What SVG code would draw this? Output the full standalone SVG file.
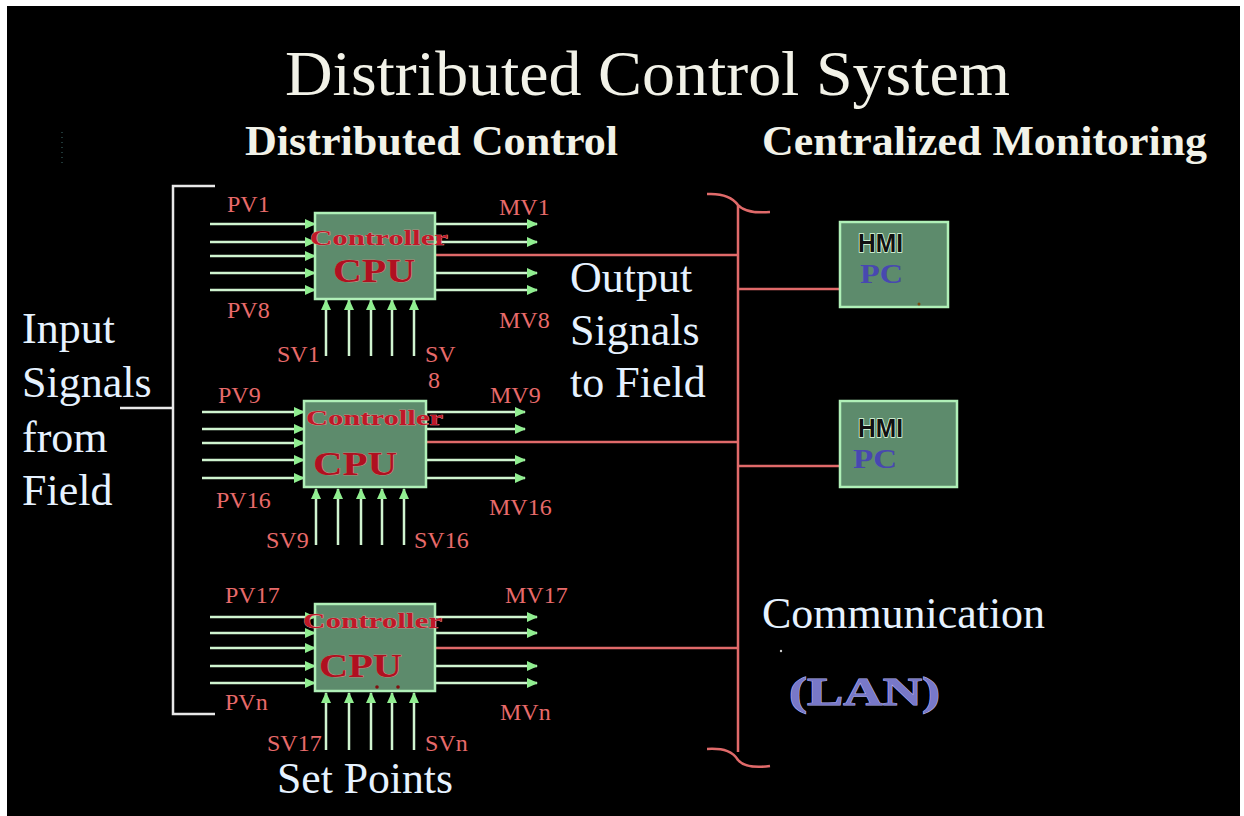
<svg xmlns="http://www.w3.org/2000/svg" width="1244" height="816" viewBox="0 0 1244 816">
<defs>
<style>
.title{font-family:"Liberation Serif",serif;font-size:64px;fill:#f2f2e8}
.sub{font-family:"Liberation Serif",serif;font-size:42px;font-weight:bold;fill:#f2f2e8}
.lb{font-family:"Liberation Serif",serif;font-size:44px;fill:#e6f2ff}
.sig{font-family:"Liberation Serif",serif;font-size:24px;fill:#e86a6a}
.ctl{font-family:"Liberation Serif",serif;font-size:21px;font-weight:bold;fill:#c01828;stroke:#f0a0a0;stroke-width:0.6;paint-order:stroke}
.cpu{font-family:"Liberation Serif",serif;font-size:34px;font-weight:bold;fill:#b01020;stroke:#e88;stroke-width:0.6;paint-order:stroke}
.box{fill:#5d8b6c;stroke:#b0f0b8;stroke-width:2.5}
.hmi{font-family:"Liberation Sans",sans-serif;font-size:25px;font-weight:bold;fill:#111;stroke:#dfffe0;stroke-width:1.5;paint-order:stroke}
.pc{font-family:"Liberation Serif",serif;font-size:27px;font-weight:bold;fill:#4848b0}
.lan{font-family:"Liberation Serif",serif;font-size:40px;font-weight:bold;fill:#7878c8;stroke:#b0b0f0;stroke-width:1;paint-order:stroke}
.ar line{stroke:#d0f4d0;stroke-width:2.5;marker-end:url(#ah)}
.red{stroke:#e06a6a;stroke-width:2.5;fill:none}
.wh{stroke:#e8e8e8;stroke-width:2.5;fill:none}
</style>
<marker id="ah" markerWidth="12" markerHeight="12" refX="10" refY="5" orient="auto" markerUnits="userSpaceOnUse">
<path d="M0,0 L11,5 L0,10 Z" fill="#90ee90"/>
</marker>
</defs>
<rect x="0" y="0" width="1244" height="816" fill="#ffffff"/>
<rect x="7" y="6" width="1233" height="810" fill="#000000"/>

<text class="title" x="285" y="95" textLength="725" lengthAdjust="spacingAndGlyphs">Distributed Control System</text>
<text class="sub" x="245" y="155" textLength="373" lengthAdjust="spacingAndGlyphs">Distributed Control</text>
<text class="sub" x="762" y="155" textLength="445" lengthAdjust="spacingAndGlyphs">Centralized Monitoring</text>

<line x1="62" y1="132" x2="62" y2="165" stroke="#2a4a4a" stroke-width="1.5" stroke-dasharray="1,4"/>

<g id="input-label">
<text class="lb" x="22" y="343">Input</text>
<text class="lb" x="22" y="397">Signals</text>
<text class="lb" x="22" y="452">from</text>
<text class="lb" x="22" y="505">Field</text>
</g>
<g id="output-label">
<text class="lb" x="570" y="292">Output</text>
<text class="lb" x="570" y="345">Signals</text>
<text class="lb" x="570" y="397">to Field</text>
</g>
<g id="setpoints-label"><text class="lb" x="277" y="793" font-size="41" textLength="176" lengthAdjust="spacingAndGlyphs">Set Points</text></g>
<g id="comm-label">
<text class="lb" x="762" y="628" textLength="283" lengthAdjust="spacingAndGlyphs">Communication</text>
<circle cx="781" cy="651" r="1.2" fill="#ccc"/>
<text class="lan" x="789" y="705" textLength="151" lengthAdjust="spacingAndGlyphs">(LAN)</text>
</g>

<g id="connectors">
<path class="wh" d="M215,186 H173 V714 H215 M120,408 H173"/>
<g class="ar">
<!-- controller 1 -->
<line x1="210" y1="224" x2="315" y2="224"/><line x1="210" y1="242" x2="315" y2="242"/><line x1="210" y1="256" x2="315" y2="256"/><line x1="210" y1="273" x2="315" y2="273"/><line x1="210" y1="290" x2="315" y2="290"/>
<line x1="435" y1="224" x2="537" y2="224"/><line x1="435" y1="242" x2="537" y2="242"/><line x1="435" y1="273" x2="537" y2="273"/><line x1="435" y1="290" x2="537" y2="290"/>
<line x1="326" y1="356" x2="326" y2="300"/><line x1="349" y1="356" x2="349" y2="300"/><line x1="371" y1="356" x2="371" y2="300"/><line x1="392" y1="356" x2="392" y2="300"/><line x1="414" y1="356" x2="414" y2="300"/>
<!-- controller 2 -->
<line x1="202" y1="412" x2="304" y2="412"/><line x1="202" y1="429" x2="304" y2="429"/><line x1="202" y1="443" x2="304" y2="443"/><line x1="202" y1="460" x2="304" y2="460"/><line x1="202" y1="478" x2="304" y2="478"/>
<line x1="426" y1="412" x2="525" y2="412"/><line x1="426" y1="429" x2="525" y2="429"/><line x1="426" y1="460" x2="525" y2="460"/><line x1="426" y1="478" x2="525" y2="478"/>
<line x1="316" y1="545" x2="316" y2="489"/><line x1="338" y1="545" x2="338" y2="489"/><line x1="361" y1="545" x2="361" y2="489"/><line x1="382" y1="545" x2="382" y2="489"/><line x1="404" y1="545" x2="404" y2="489"/>
<!-- controller 3 -->
<line x1="210" y1="617" x2="315" y2="617"/><line x1="210" y1="633" x2="315" y2="633"/><line x1="210" y1="648" x2="315" y2="648"/><line x1="210" y1="666" x2="315" y2="666"/><line x1="210" y1="683" x2="315" y2="683"/>
<line x1="435" y1="617" x2="537" y2="617"/><line x1="435" y1="633" x2="537" y2="633"/><line x1="435" y1="666" x2="537" y2="666"/><line x1="435" y1="683" x2="537" y2="683"/>
<line x1="326" y1="750" x2="326" y2="693"/><line x1="349" y1="750" x2="349" y2="693"/><line x1="371" y1="750" x2="371" y2="693"/><line x1="392" y1="750" x2="392" y2="693"/><line x1="414" y1="750" x2="414" y2="693"/>
</g>
<!-- LAN bus -->
<path class="red" d="M707,194 C725,193 733,198 738,205 C744,212 755,213 770,212"/>
<path class="red" d="M738,205 V752"/>
<path class="red" d="M707,749 C725,748 733,752 738,760 C744,767 755,768 770,766"/>
<path class="red" d="M435,255 H738 M426,442 H738 M435,648 H738 M738,289 H840 M738,466 H840"/>
</g>

<g id="controller1">
<rect class="box" x="315" y="213" width="120" height="86" stroke="#90f0d8"/>
<text class="ctl" x="310" y="245" textLength="138" lengthAdjust="spacingAndGlyphs">Controller</text>
<text class="cpu" x="333" y="282" textLength="82" lengthAdjust="spacingAndGlyphs">CPU</text>
<text class="sig" x="227" y="212">PV1</text>
<text class="sig" x="227" y="318">PV8</text>
<text class="sig" x="277" y="362">SV1</text>
<text class="sig" x="425" y="362">SV</text>
<text class="sig" x="428" y="388">8</text>
<text class="sig" x="499" y="215">MV1</text>
<text class="sig" x="499" y="328">MV8</text>
</g>

<g id="controller2">
<rect class="box" x="304" y="401" width="122" height="86"/>
<text class="ctl" x="306" y="425" textLength="137" lengthAdjust="spacingAndGlyphs">Controller</text>
<text class="cpu" x="313" y="475" textLength="84" lengthAdjust="spacingAndGlyphs">CPU</text>
<text class="sig" x="218" y="403">PV9</text>
<text class="sig" x="216" y="508">PV16</text>
<text class="sig" x="266" y="548">SV9</text>
<text class="sig" x="414" y="548">SV16</text>
<text class="sig" x="490" y="403">MV9</text>
<text class="sig" x="489" y="515">MV16</text>
</g>

<g id="controller3">
<rect class="box" x="315" y="604" width="120" height="87"/>
<text class="ctl" x="303" y="628" textLength="139" lengthAdjust="spacingAndGlyphs">Controller</text>
<text class="cpu" x="319" y="677" textLength="83" lengthAdjust="spacingAndGlyphs">CPU</text>
<circle cx="377" cy="687" r="1.8" fill="#801010"/>
<circle cx="398" cy="687" r="1.8" fill="#801010"/>
<text class="sig" x="225" y="603">PV17</text>
<text class="sig" x="225" y="710">PVn</text>
<text class="sig" x="267" y="751">SV17</text>
<text class="sig" x="425" y="751">SVn</text>
<text class="sig" x="505" y="603">MV17</text>
<text class="sig" x="500" y="720">MVn</text>
</g>

<g id="hmi1">
<rect class="box" x="840" y="222" width="108" height="85"/>
<text class="hmi" x="858" y="252" textLength="45" lengthAdjust="spacingAndGlyphs">HMI</text>
<text class="pc" x="860" y="283" textLength="43" lengthAdjust="spacingAndGlyphs">PC</text>
<circle cx="919" cy="304" r="1.5" fill="#7a4a10"/>
</g>

<g id="hmi2">
<rect class="box" x="840" y="401" width="117" height="86"/>
<text class="hmi" x="858" y="437" textLength="45" lengthAdjust="spacingAndGlyphs">HMI</text>
<text class="pc" x="853" y="468" textLength="44" lengthAdjust="spacingAndGlyphs">PC</text>
</g>
</svg>
